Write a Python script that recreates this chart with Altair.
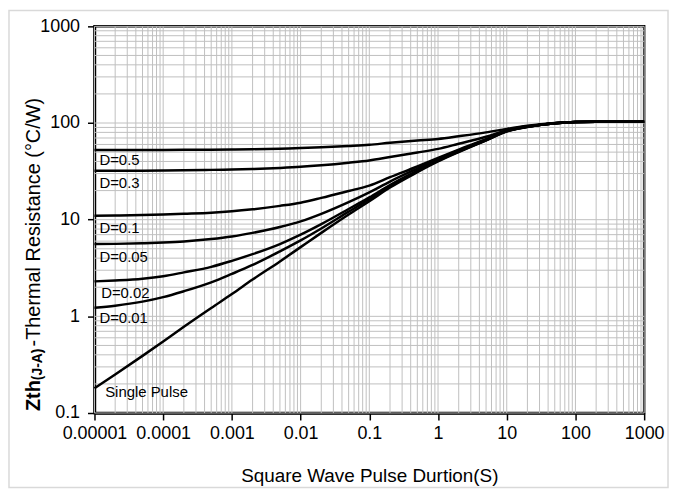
import altair as alt
import pandas as pd

# ---------------- data ----------------
pulse_s = [1e-5, 2e-5, 5e-5, 1e-4, 2e-4, 5e-4, 1e-3, 2e-3, 5e-3, 1e-2, 2e-2, 5e-2,
           0.1, 0.2, 0.5, 1, 2, 5, 10, 20, 50, 100, 200, 500, 1000]

z_d05 = [52.5, 52.55, 52.6, 52.7, 52.8, 53.0, 53.3, 53.6, 54.3, 55.0, 56.0, 57.8,
         59.5, 62.5, 66.0, 68.5, 73.0, 80.0, 87.0, 93.5, 99.8, 102.5, 103, 103, 103]
z_d03 = [32.0, 32.05, 32.15, 32.3, 32.45, 32.75, 33.0, 33.4, 34.3, 35.2, 36.5, 38.8,
         41.0, 44.5, 49.5, 54.0, 61.0, 72.0, 84.5, 92.5, 99.7, 102.5, 103, 103, 103]
z_d01 = [11.0, 11.05, 11.15, 11.3, 11.5, 11.8, 12.2, 12.8, 13.9, 15.0, 16.8, 19.8,
         22.5, 27.5, 35.5, 43.5, 53.0, 68.0, 83.2, 91.8, 99.6, 102.5, 103, 103, 103]
z_d005 = [5.6, 5.62, 5.7, 5.8, 5.95, 6.3, 6.7, 7.3, 8.4, 9.6, 11.5, 15.2,
          19.2, 24.8, 33.8, 42.5, 52.0, 67.3, 82.8, 91.5, 99.6, 102.5, 103, 103, 103]
z_d002 = [2.3, 2.35, 2.45, 2.6, 2.85, 3.25, 3.75, 4.4, 5.6, 7.0, 9.0, 12.9,
          17.0, 22.8, 32.2, 41.2, 51.0, 66.6, 82.4, 91.3, 99.5, 102.5, 103, 103, 103]
z_d001 = [1.23, 1.29, 1.42, 1.58, 1.82, 2.25, 2.75, 3.4, 4.7, 6.1, 8.1, 12.1,
          16.3, 22.2, 31.6, 40.6, 50.5, 66.3, 82.2, 91.2, 99.5, 102.5, 103, 103, 103]
z_single = [0.18, 0.25, 0.39, 0.55, 0.78, 1.22, 1.7, 2.4, 3.7, 5.2, 7.3, 11.3,
            15.5, 21.5, 31.0, 40.0, 50.0, 66.0, 82.0, 91.0, 99.5, 102.5, 103, 103, 103]

series_names = ["D=0.5", "D=0.3", "D=0.1", "D=0.05", "D=0.02", "D=0.01", "Single Pulse"]
series_values = [z_d05, z_d03, z_d01, z_d005, z_d002, z_d001, z_single]

label_text = ["D=0.5", "D=0.3", "D=0.1", "D=0.05", "D=0.02", "D=0.01", "Single Pulse"]
label_x = [1.18e-5, 1.18e-5, 1.18e-5, 1.18e-5, 1.25e-5, 1.18e-5, 1.43e-5]
label_y = [41.6, 23.9, 8.1, 4.15, 1.74, 0.95, 0.163]

x_ticks = [1e-5, 1e-4, 1e-3, 1e-2, 0.1, 1, 10, 100, 1000]
x_tick_labels = ["0.00001", "0.0001", "0.001", "0.01", "0.1", "1", "10", "100", "1000"]
y_ticks = [0.1, 1, 10, 100, 1000]
y_tick_labels = ["0.1", "1", "10", "100", "1000"]

x_title = "Square Wave Pulse Durtion(S)"
y_title_parts = ["Zth", "(J-A)", "-Thermal  Resistance (°C/W)"]

# minor grid positions (1..9 x each decade)
x_grid = [m * 10.0 ** e for e in range(-5, 3) for m in range(1, 10)] + [1000]
y_grid = [m * 10.0 ** e for e in range(-1, 3) for m in range(1, 10)] + [1000]

# ---------------- tables ----------------
rows = []
for name, vals in zip(series_names, series_values):
    for xv, yv in zip(pulse_s, vals):
        rows.append({"series": name, "t": xv, "z": yv})
df = pd.DataFrame(rows)
df_labels = pd.DataFrame({"txt": label_text, "t": label_x, "z": label_y})
df_xg = pd.DataFrame({"t": x_grid})
df_yg = pd.DataFrame({"z": y_grid})

W, H = 553, 389
FONT = "Liberation Sans"

xs = alt.Scale(type="log", domain=[1e-5, 1000], nice=False)
ys = alt.Scale(type="log", domain=[0.1, 1000], nice=False)


def label_expr(labels, lo):
    arr = "[" + ",".join("'" + s + "'" for s in labels) + "]"
    return f"{arr}[round(log(datum.value)/LN10) - ({lo})]"


x_axis = alt.Axis(values=x_ticks, labelExpr=label_expr(x_tick_labels, -5), grid=False,
                  tickSize=7, tickColor="black", tickWidth=1.5,
                  domainColor="black", domainWidth=2.5,
                  labelFont=FONT, labelFontSize=18, labelColor="black", labelPadding=5,
                  labelFlush=False, labelOverlap=False,
                  title=x_title, titleFont=FONT, titleFontSize=19, titleFontWeight="normal",
                  titleColor="black", titlePadding=24)
y_axis = alt.Axis(values=y_ticks, labelExpr=label_expr(y_tick_labels, -1), grid=False,
                  tickSize=7, tickColor="black", tickWidth=1.5,
                  domainColor="black", domainWidth=2.5,
                  labelFont=FONT, labelFontSize=18, labelColor="black", labelPadding=8,
                  labelFlush=False, labelOverlap=False, title="")

border = alt.Chart(pd.DataFrame({"a": [0]})).mark_rect(
    fillOpacity=0, stroke="#d9d9d9", strokeWidth=1.5
).encode(x=alt.value(-86), x2=alt.value(W + 24), y=alt.value(-16), y2=alt.value(H + 75))

grid_x = alt.Chart(df_xg).mark_rule(color="#c0c0c0", strokeWidth=1).encode(
    x=alt.X("t:Q", scale=xs, axis=x_axis))
grid_y = alt.Chart(df_yg).mark_rule(color="#c0c0c0", strokeWidth=1).encode(
    y=alt.Y("z:Q", scale=ys, axis=y_axis))

lines = alt.Chart(df).mark_line(color="black", strokeWidth=2.5, interpolate="monotone").encode(
    x=alt.X("t:Q", scale=xs, axis=x_axis),
    y=alt.Y("z:Q", scale=ys, axis=y_axis),
    detail="series:N",
)

labels = alt.Chart(df_labels).mark_text(
    align="left", baseline="middle", font=FONT, fontSize=15, color="black"
).encode(x=alt.X("t:Q", scale=xs, axis=x_axis), y=alt.Y("z:Q", scale=ys, axis=y_axis),
         text="txt:N")

one = pd.DataFrame({"a": [0]})
title_x = -55
t1 = alt.Chart(one).mark_text(angle=270, align="left", baseline="alphabetic", font=FONT,
                              fontSize=20, fontWeight="bold", color="black").encode(
    x=alt.value(title_x), y=alt.value(387), text=alt.value(y_title_parts[0]))
t2 = alt.Chart(one).mark_text(angle=270, align="left", baseline="alphabetic", font=FONT,
                              fontSize=14, fontWeight="bold", color="black").encode(
    x=alt.value(title_x + 2), y=alt.value(356), text=alt.value(y_title_parts[1]))
t3 = alt.Chart(one).mark_text(angle=270, align="left", baseline="alphabetic", font=FONT,
                              fontSize=20, color="black").encode(
    x=alt.value(title_x), y=alt.value(322), text=alt.value(y_title_parts[2]))

chart = alt.layer(border, grid_x, grid_y, lines, labels, t1, t2, t3).properties(
    width=W, height=H,
    autosize=alt.AutoSizeParams(type="none"),
    padding={"left": 87, "top": 17, "right": 26, "bottom": 77},
).configure(background="white").configure_view(stroke="black", strokeWidth=2.5)

chart.save("out.html", embed_options={"renderer": "svg", "actions": False})
